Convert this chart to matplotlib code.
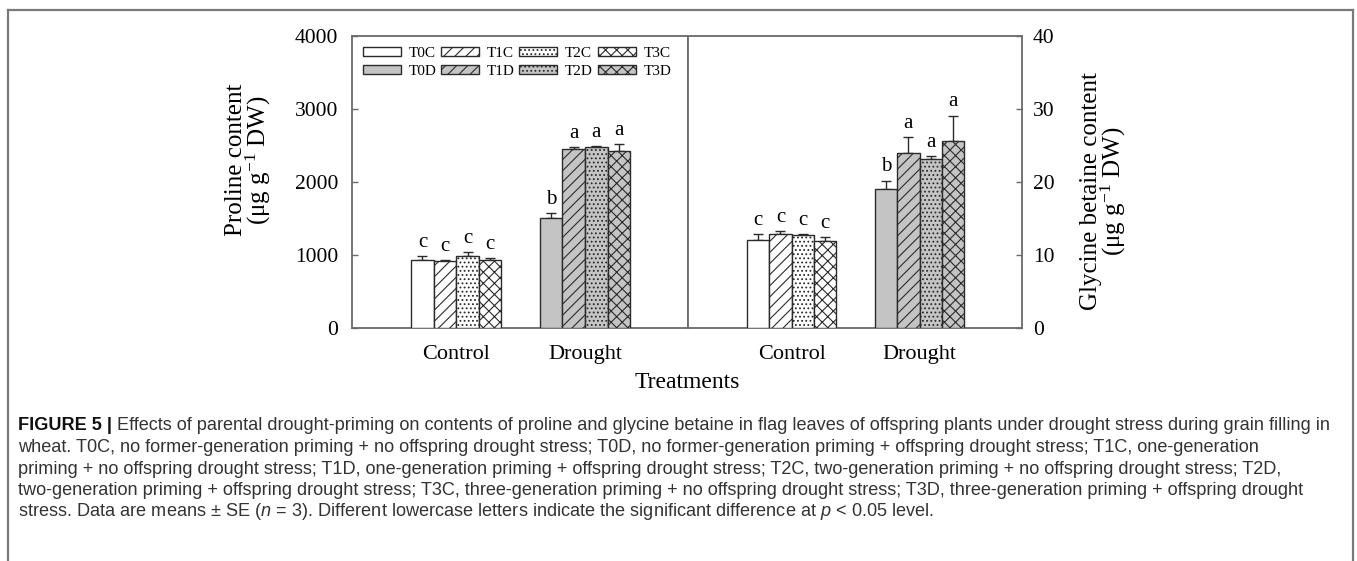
import numpy as np
import matplotlib.pyplot as plt
from matplotlib.lines import Line2D

# ---------------- data ----------------
groups = ['Control', 'Drought']
treat_c = ['T0C', 'T1C', 'T2C', 'T3C']
treat_d = ['T0D', 'T1D', 'T2D', 'T3D']

proline_c = [930, 922, 982, 927]
proline_c_se = [60, 10, 55, 30]
proline_d = [1510, 2448, 2478, 2420]
proline_d_se = [68, 27, 15, 96]
proline_c_sig = ['c', 'c', 'c', 'c']
proline_d_sig = ['b', 'a', 'a', 'a']

gb_c = [12.1, 12.9, 12.7, 11.9]
gb_c_se = [0.8, 0.4, 0.15, 0.6]
gb_d = [19.1, 24.0, 23.1, 25.6]
gb_d_se = [1.1, 2.1, 0.5, 3.5]
gb_c_sig = ['c', 'c', 'c', 'c']
gb_d_sig = ['b', 'a', 'a', 'a']

caption_head = 'FIGURE 5 |'
caption_lines = [
    ' Effects of parental drought-priming on contents of proline and glycine betaine in flag leaves of offspring plants under drought stress during grain filling in',
    'wheat. T0C, no former-generation priming + no offspring drought stress; T0D, no former-generation priming + offspring drought stress; T1C, one-generation',
    'priming + no offspring drought stress; T1D, one-generation priming + offspring drought stress; T2C, two-generation priming + no offspring drought stress; T2D,',
    'two-generation priming + offspring drought stress; T3C, three-generation priming + no offspring drought stress; T3D, three-generation priming + offspring drought',
    'stress. Data are means \u00b1 SE ($n$ = 3). Different lowercase letters indicate the significant difference at $p$ < 0.05 level.',
]

# ---------------- style ----------------
plt.rcParams['font.family'] = ['Liberation Serif', 'DejaVu Serif']
plt.rcParams['mathtext.fontset'] = 'custom'
plt.rcParams['mathtext.it'] = 'Liberation Sans:italic'
plt.rcParams['mathtext.rm'] = 'Liberation Sans'
plt.rcParams['hatch.linewidth'] = 0.8

hatches = ['', '///', '....', 'xxx']
edge = '#2b2b2b'
spine_c = '#6a6a6a'

W, H = 1357, 561
fig = plt.figure(figsize=(W / 100, H / 100), dpi=100)

def px_axes(x0, x1, y0, y1):
    return fig.add_axes([x0 / W, 1 - y1 / H, (x1 - x0) / W, (y1 - y0) / H])

ax1 = px_axes(352, 688, 36, 328)
ax2 = px_axes(688, 1022, 36, 328)

x = np.arange(len(groups))
bw = 0.175
offsets = (np.arange(4) - 1.5) * bw


def draw_panel(ax, c_vals, c_err, d_vals, d_err, c_sig, d_sig, ymax):
    handles = []
    for i in range(4):
        pos = x + offsets[i]
        vals = [c_vals[i], d_vals[i]]
        errs = [c_err[i], d_err[i]]
        bc = ax.bar(pos[0], vals[0], bw, color='white', edgecolor=edge,
                    hatch=hatches[i], linewidth=1.0, label=treat_c[i], zorder=3)
        bd = ax.bar(pos[1], vals[1], bw, color='#c4c4c4', edgecolor=edge,
                    hatch=hatches[i], linewidth=1.0, label=treat_d[i], zorder=3)
        handles.append((bc, bd))
        ax.errorbar(pos, vals, yerr=[[0, 0], errs], fmt='none', ecolor=edge,
                    elinewidth=1.0, capsize=3.5, capthick=1.0, zorder=2)
        for p, v, e, s in zip(pos, vals, errs, [c_sig[i], d_sig[i]]):
            ax.annotate(s, (p, v + e), xytext=(0, 3), textcoords='offset points',
                        ha='center', va='bottom', fontsize=15)
    ax.set_xlim(-0.81, 1.80)
    ax.set_ylim(0, ymax)
    ax.set_xticks(x)
    ax.set_xticklabels(groups, fontsize=16)
    ax.tick_params(axis='x', length=0, pad=12)
    for sp in ax.spines.values():
        sp.set_color(spine_c)
        sp.set_linewidth(1.3)
    return handles


h = draw_panel(ax1, proline_c, proline_c_se, proline_d, proline_d_se,
               proline_c_sig, proline_d_sig, 4000)
draw_panel(ax2, gb_c, gb_c_se, gb_d, gb_d_se, gb_c_sig, gb_d_sig, 40)

ax1.set_yticks([0, 1000, 2000, 3000, 4000])
ax1.tick_params(axis='y', direction='in', length=4, width=1, color=spine_c,
                labelsize=15.5, pad=10)
ax1.set_ylabel('Proline content\n(\u03bcg g$\\mathregular{^{-1}}$ DW)', fontsize=18,
               linespacing=0.85)
ax1.yaxis.set_label_coords(-0.235, 0.575)

ax2.yaxis.tick_right()
ax2.yaxis.set_label_position('right')
ax2.set_yticks([0, 10, 20, 30, 40])
ax2.tick_params(axis='y', direction='in', length=4, width=1, color=spine_c,
                labelsize=15.5, pad=8)
ax2.set_ylabel('Glycine betaine content\n(\u03bcg g$\\mathregular{^{-1}}$ DW)',
               fontsize=18, linespacing=0.85)
ax2.yaxis.set_label_coords(1.174, 0.469)

# legend: 4 columns, row 1 control, row 2 drought
leg_handles = [b for pair in h for b in pair]
leg_labels = [t for pair in zip(treat_c, treat_d) for t in pair]
ax1.legend(leg_handles, leg_labels, ncol=4, loc='upper left',
           bbox_to_anchor=(0, 1), frameon=False, fontsize=11,
           handlelength=2.5, handleheight=0.5, handletextpad=0.5,
           columnspacing=0.3, labelspacing=0.35, borderaxespad=0.4,
           borderpad=0.3)

fig.text(687 / W, 1 - 382 / H, 'Treatments', ha='center', va='center',
         fontsize=17)

# caption
cap_font = ['Liberation Sans']
head = fig.text(18 / W, 1 - 426 / H, caption_head, fontsize=13.1, fontweight='bold',
                family=cap_font, va='center', ha='left', color='#111111')
fig.canvas.draw()
ax1.annotate(caption_lines[0], xy=(1, 0), xycoords=head, va='bottom', ha='left',
             fontsize=13.1, family=cap_font, color='#333333', annotation_clip=False)
for k, line in enumerate(caption_lines[1:]):
    fig.text(18 / W, 1 - (447.5 + 21.5 * k) / H, line, fontsize=13.1,
             family=cap_font, va='center', ha='left', color='#333333')

# outer frame
frame_kw = dict(color='#7a7a7a', linewidth=1.6, transform=fig.transFigure)
fig.add_artist(Line2D([8 / W, 8 / W], [0, 1 - 10 / H], **frame_kw))
fig.add_artist(Line2D([8 / W, 1353 / W], [1 - 10 / H, 1 - 10 / H], **frame_kw))
fig.add_artist(Line2D([1353 / W, 1353 / W], [0, 1 - 10 / H], **frame_kw))

fig.savefig('out.png', dpi=100)
